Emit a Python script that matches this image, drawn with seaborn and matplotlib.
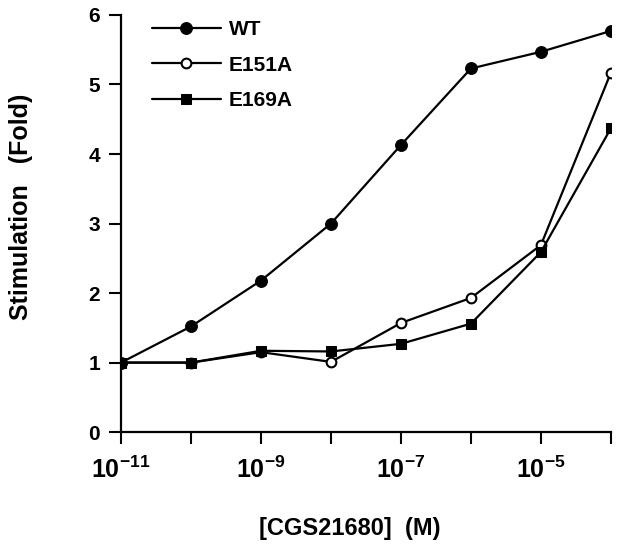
import matplotlib
matplotlib.use("Agg")
import matplotlib.pyplot as plt
import seaborn as sns
import numpy as np
import pandas as pd

conc = [1e-11, 1e-10, 1e-9, 1e-8, 1e-7, 1e-6, 1e-5, 1e-4]
wt = [1.0, 1.52, 2.18, 3.0, 4.13, 5.23, 5.47, 5.77]
e151a = [1.0, 1.0, 1.15, 1.01, 1.57, 1.93, 2.69, 5.17]
e169a = [1.0, 1.0, 1.17, 1.16, 1.27, 1.56, 2.59, 4.37]
series_names = ["WT", "E151A", "E169A"]
xticks = [1e-11, 1e-10, 1e-9, 1e-8, 1e-7, 1e-6, 1e-5, 1e-4]
xtick_labels = [r"$\mathbf{10^{-11}}$", "", r"$\mathbf{10^{-9}}$", "", r"$\mathbf{10^{-7}}$", "", r"$\mathbf{10^{-5}}$", ""]
yticks = [0, 1, 2, 3, 4, 5, 6]

sns.set_style("ticks")
plt.rcParams["font.family"] = ["Liberation Sans", "DejaVu Sans"]
plt.rcParams["font.weight"] = "bold"
plt.rcParams["text.color"] = "black"
plt.rcParams["axes.labelcolor"] = "black"
plt.rcParams["xtick.color"] = "black"
plt.rcParams["ytick.color"] = "black"
plt.rcParams["mathtext.fontset"] = "custom"
plt.rcParams["mathtext.rm"] = "Liberation Sans:bold"
plt.rcParams["mathtext.bf"] = "Liberation Sans:bold"
plt.rcParams["mathtext.it"] = "Liberation Sans:bold"

fig = plt.figure(figsize=(6.24, 5.54), dpi=100)
ax = fig.add_axes([0.194, 0.22, 0.785, 0.753])

df = pd.DataFrame({"x": conc * 3,
                   "y": wt + e151a + e169a,
                   "s": sum([[n] * len(conc) for n in series_names], [])})

styles = {
    "WT": dict(marker="o", markersize=8.5, markerfacecolor="black"),
    "E151A": dict(marker="o", markersize=7, markerfacecolor="white", markeredgewidth=1.5),
    "E169A": dict(marker="s", markersize=6.5, markerfacecolor="black"),
}
for name in series_names:
    sub = df[df["s"] == name]
    sns.lineplot(data=sub, x="x", y="y", ax=ax, color="black", linewidth=1.6,
                 markeredgecolor="black", label=name, **styles[name])

ax.set_xscale("log")
ax.set_xlim(1e-11, 1e-4)
ax.set_ylim(0, 6)
ax.set_xticks(xticks)
ax.set_xticklabels(xtick_labels)
ax.xaxis.set_minor_locator(matplotlib.ticker.NullLocator())
ax.set_yticks(yticks)
ax.set_yticklabels([str(v) for v in yticks])
ax.tick_params(axis="both", direction="out", length=8.5, width=1.5,
               color="black", labelcolor="black")
ax.tick_params(axis="y", labelsize=15, pad=6.5)
ax.tick_params(axis="x", labelsize=18, pad=9)
for s in ["top", "right"]:
    ax.spines[s].set_visible(False)
for s in ["left", "bottom"]:
    ax.spines[s].set_linewidth(1.6)
    ax.spines[s].set_color("black")

ax.set_xlabel("[CGS21680]  (M)", fontsize=17, fontweight="bold", color="black")
ax.xaxis.set_label_coords(0.467, -0.204)
ax.set_ylabel("Stimulation   (Fold)", fontsize=18, fontweight="bold", color="black")
ax.yaxis.set_label_coords(-0.18, 0.54)

leg = ax.legend(loc="upper left", bbox_to_anchor=(0.063, 0.988), frameon=False,
                borderaxespad=0, borderpad=0,
                handlelength=3.3, fontsize=15, labelspacing=0.8, handletextpad=0.4)
for t in leg.get_texts():
    t.set_fontweight("bold")
    t.set_color("black")

fig.savefig("out.png", dpi=100)
